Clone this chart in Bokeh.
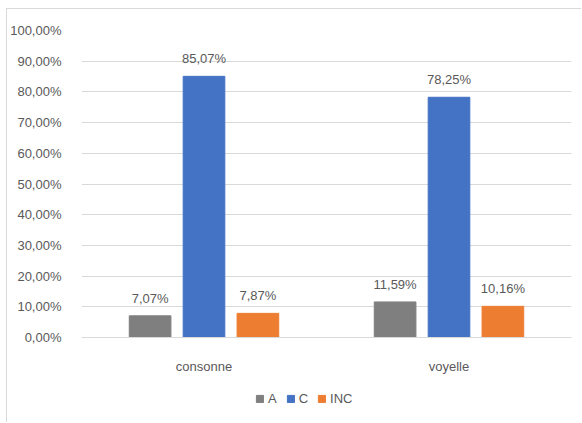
from bokeh.plotting import figure
from bokeh.models import (ColumnDataSource, FactorRange, FixedTicker, Legend, LegendItem,
                          Range1d, CategoricalAxis)
from bokeh.transform import dodge
from bokeh.core.properties import value
from bokeh.embed import file_html
from bokeh.resources import INLINE

categories = ["consonne", "voyelle"]
series_names = ["A", "C", "INC"]
values_A = [0.0707, 0.1159]
values_C = [0.8507, 0.7825]
values_INC = [0.0787, 0.1016]
colors = ["#7f7f7f", "#4472c4", "#ed7d31"]
y_ticks = [i / 10 for i in range(11)]
y_tick_labels = ["0,00%", "10,00%", "20,00%", "30,00%", "40,00%", "50,00%",
                 "60,00%", "70,00%", "80,00%", "90,00%", "100,00%"]

FONT = "Liberation Sans"
TXT = "#595959"
FS = "13px"

def fmt(v):
    return f"{v*100:.2f}%".replace(".", ",")

p = figure(x_range=FactorRange(*categories), y_range=Range1d(-0.267, 1.0),
           width=575, height=414, output_backend="svg", toolbar_location=None,
           x_axis_location=None,
           min_border_left=73, min_border_right=11, min_border_top=21, min_border_bottom=4)
p.styles = {"margin-left": "6px", "margin-top": "8px",
            "border-left": "1px solid #d9d9d9", "border-top": "1px solid #d9d9d9"}

offsets = [-0.22, 0.0, 0.22]
series_vals = [values_A, values_C, values_INC]
items = []
for name, vals, col, off in zip(series_names, series_vals, colors, offsets):
    src = ColumnDataSource(dict(cat=categories, val=vals, lab=[fmt(v) for v in vals]))
    r = p.vbar(x=dodge("cat", off, range=p.x_range), top="val", bottom=0, width=0.17,
               source=src, fill_color=col, line_color=col)
    p.text(x=dodge("cat", off, range=p.x_range), y="val", text="lab", source=src,
           text_align="center", text_baseline="bottom", y_offset=-10,
           text_font=value(FONT), text_font_size=FS, text_color=TXT)
    items.append(LegendItem(label=name, renderers=[r]))

legend = Legend(items=items, orientation="horizontal", location=(174, 13),
                label_text_font=FONT, label_text_font_size=FS, label_text_color=TXT,
                glyph_width=9, glyph_height=9, label_standoff=4, spacing=9,
                label_width=1,
                padding=0, margin=0, border_line_alpha=0, background_fill_alpha=0)
p.add_layout(legend, "center")

xaxis = CategoricalAxis(fixed_location=0)
xaxis.axis_line_color = "#d9d9d9"
xaxis.major_tick_line_color = None
xaxis.minor_tick_line_color = None
xaxis.major_label_standoff = 15
xaxis.major_label_text_font = FONT
xaxis.major_label_text_font_size = FS
xaxis.major_label_text_color = TXT
p.add_layout(xaxis, "below")

p.yaxis.ticker = FixedTicker(ticks=y_ticks)
p.yaxis.major_label_overrides = {t: l for t, l in zip(y_ticks, y_tick_labels)}
p.yaxis.axis_line_color = None
p.yaxis.major_tick_line_color = None
p.yaxis.minor_tick_line_color = None
p.yaxis.major_label_standoff = 14
p.yaxis.major_label_text_font = FONT
p.yaxis.major_label_text_font_size = FS
p.yaxis.major_label_text_color = TXT

p.xgrid.grid_line_color = None
p.ygrid.grid_line_color = "#d9d9d9"
p.ygrid.ticker = FixedTicker(ticks=y_ticks)
p.outline_line_color = None

open("out.html", "w").write(file_html(p, INLINE))
